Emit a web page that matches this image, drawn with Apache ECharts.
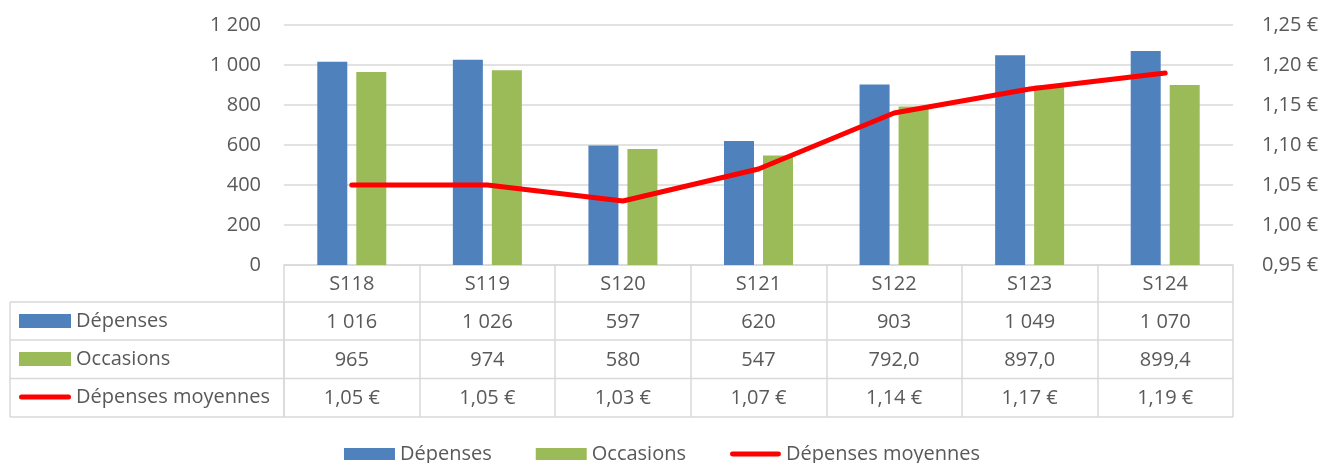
<!DOCTYPE html>
<html><head><meta charset="utf-8">
<script src="https://cdn.jsdelivr.net/npm/echarts@6/dist/echarts.min.js"></script>
<style>html,body{margin:0;padding:0;background:#fff}#c{width:1324px;height:463px}</style>
</head><body><div id="c"></div>
<script>
const categories = ['S118','S119','S120','S121','S122','S123','S124'];
const depenses = [1016,1026,597,620,903,1049,1070];
const occasions = [965,974,580,547,792.0,897.0,899.4];
const moyennes = [1.05,1.05,1.03,1.07,1.14,1.17,1.19];
const depensesLabels = ['1 016','1 026','597','620','903','1 049','1 070'];
const occasionsLabels = ['965','974','580','547','792,0','897,0','899,4'];
const moyennesLabels = ['1,05 €','1,05 €','1,03 €','1,07 €','1,14 €','1,17 €','1,19 €'];

const W = 1324, H = 463;
const GL = 284, GR = 1233, GT = 25, GB = 265;
const ROW = 38, TABLE_LEFT = 10;
const rowTops = [GB, 302, 340, 378.5, 417];
const FONT = 'Open Sans';
const FS = 20;
const TXT = '#595959';
const BORDER = '#d9d9d9';
const LINE_ICON = 'path://M2.5,0 L49.5,0 A2.5,2.5 0 0 1 49.5,5 L2.5,5 A2.5,2.5 0 0 1 2.5,0 Z';

const chart = echarts.init(document.getElementById('c'), null, {renderer:'canvas'});

function fmtThousands(v){ return String(v).replace(/\B(?=(\d{3})+(?!\d))/g,' '); }

const graphics = [];
rowTops.slice(1).forEach(y => graphics.push({type:'line', shape:{x1:TABLE_LEFT,y1:y,x2:GR,y2:y}, style:{stroke:BORDER,lineWidth:1.5}, silent:true}));
[TABLE_LEFT, GL].forEach(x => graphics.push({type:'line', shape:{x1:x,y1:rowTops[1],x2:x,y2:rowTops[4]}, style:{stroke:BORDER,lineWidth:1.5}, silent:true}));

const legendItems = [
  {name:'Dépenses', icon:'rect'},
  {name:'Occasions', icon:'rect'},
  {name:'Dépenses moyennes', icon:LINE_ICON}
];

chart.setOption({
  animation:false,
  textStyle:{fontFamily:FONT},
  grid:{left:GL, right:W-GR, top:GT, bottom:H-GB, containLabel:false},
  legend:[
    {data:legendItems, top:439, left:'center', itemWidth:51, itemHeight:12, itemGap:44, symbolKeepAspect:true,
     textStyle:{color:TXT, fontSize:FS, fontFamily:FONT}, selectedMode:false},
    {data:legendItems, orient:'vertical', left:14, top:rowTops[1]-5, itemWidth:52, itemHeight:14, itemGap:0, symbolKeepAspect:true,
     textStyle:{color:TXT, fontSize:FS, fontFamily:FONT, lineHeight:ROW}, selectedMode:false}
  ],
  xAxis:[{
    type:'category', data:categories,
    axisLine:{lineStyle:{color:BORDER, width:1.5}},
    axisTick:{show:true, length:rowTops[4]-GB, lineStyle:{color:BORDER, width:1.5}},
    axisLabel:{
      margin:0, interval:0, color:TXT, fontSize:FS, fontFamily:FONT, lineHeight:ROW,
      formatter:(v,i)=> [v, depensesLabels[i], occasionsLabels[i], moyennesLabels[i]].join('\n')
    }
  }],
  yAxis:[
    {type:'value', min:0, max:1200, interval:200,
     axisLine:{show:false}, axisTick:{show:false},
     splitLine:{lineStyle:{color:BORDER, width:1.5}},
     axisLabel:{color:TXT, fontSize:FS, fontFamily:FONT, margin:23, formatter:v=>fmtThousands(v)}},
    {type:'value', min:0.95, max:1.25, interval:0.05,
     axisLine:{show:false}, axisTick:{show:false}, splitLine:{show:false},
     axisLabel:{color:TXT, fontSize:FS, fontFamily:FONT, margin:29, formatter:v=>v.toFixed(2).replace('.',',')+' €'}}
  ],
  series:[
    {name:'Dépenses', type:'bar', data:depenses, barWidth:30, barGap:'30%', itemStyle:{color:'#4f81bd'}},
    {name:'Occasions', type:'bar', data:occasions, barWidth:30, itemStyle:{color:'#9bbb59'}},
    {name:'Dépenses moyennes', type:'line', yAxisIndex:1, data:moyennes, symbol:'none',
     lineStyle:{color:'#ff0000', width:5, cap:'round', join:'round'}, itemStyle:{color:'#ff0000'}, z:5}
  ],
  graphic:graphics
});
</script></body></html>
